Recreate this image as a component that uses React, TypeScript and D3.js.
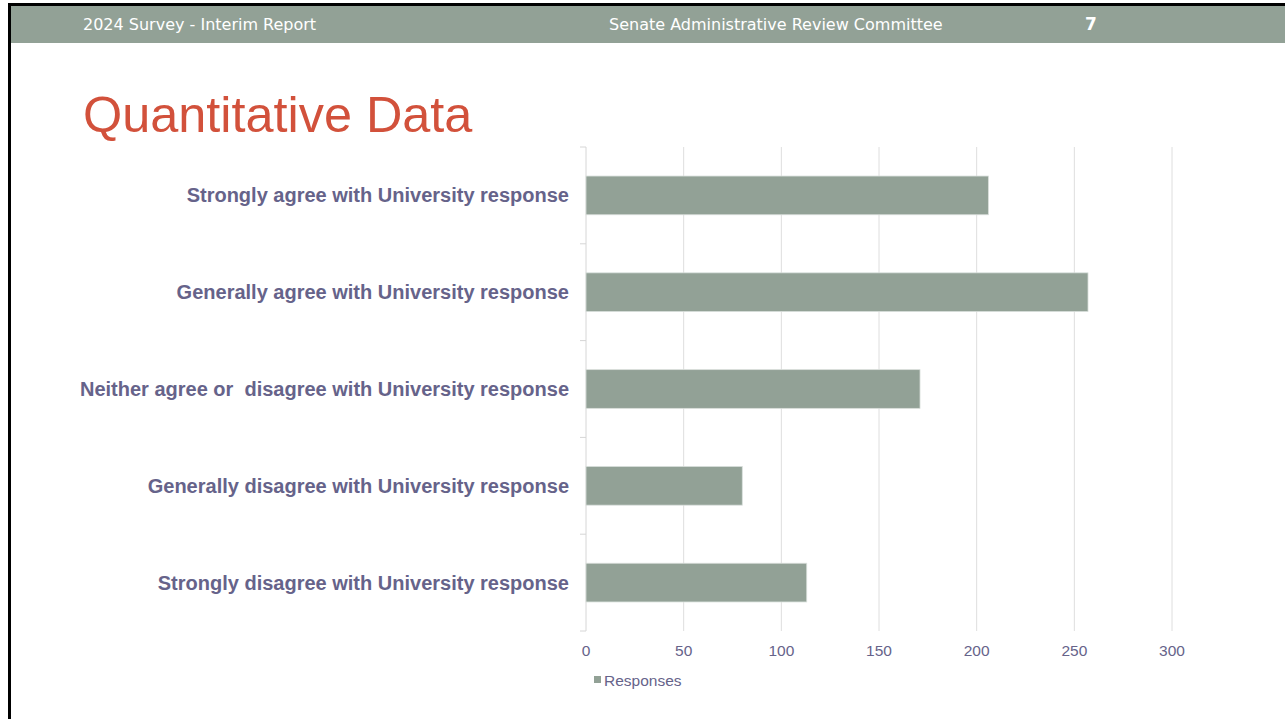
import React, { useEffect, useRef } from 'react';
import * as d3 from 'd3';

const categories = [
  'Strongly agree with University response',
  'Generally agree with University response',
  'Neither agree or  disagree with University response',
  'Generally disagree with University response',
  'Strongly disagree with University response',
];
const responses = [206, 257, 171, 80, 113];
const xTicks = [0, 50, 100, 150, 200, 250, 300];
const seriesName = 'Responses';

const headerLeft = '2024 Survey - Interim Report';
const headerCenter = 'Senate Administrative Review Committee';
const pageNumber = '7';
const title = 'Quantitative Data';

const W = 1285;
const H = 719;
const sage = '#92a196';
const labelColor = '#66638a';
const gridColor = '#dedede';

const App: React.FC = () => {
  const ref = useRef<SVGSVGElement>(null);

  useEffect(() => {
    if (!ref.current) return;
    const svg = d3.select(ref.current);
    svg.selectAll('*').remove();

    // slide frame + header band
    svg.append('rect').attr('x', 8).attr('y', 3).attr('width', W - 8).attr('height', 3).attr('fill', '#000');
    svg.append('rect').attr('x', 8).attr('y', 3).attr('width', 3).attr('height', H - 3).attr('fill', '#000');
    svg.append('rect').attr('x', 11).attr('y', 6).attr('width', W - 11).attr('height', 37).attr('fill', sage);

    const head = svg.append('g')
      .attr('font-family', '"DejaVu Sans", Verdana, sans-serif')
      .attr('font-size', '16px')
      .attr('fill', '#ffffff');
    head.append('text').attr('x', 83).attr('y', 30).text(headerLeft);
    head.append('text').attr('x', 609).attr('y', 30).text(headerCenter);
    head.append('text').attr('x', 1085).attr('y', 30).attr('font-weight', 'bold').attr('font-size', '17px').text(pageNumber);

    svg.append('text')
      .attr('x', 83)
      .attr('y', 132)
      .attr('font-family', '"Liberation Sans", Arial, sans-serif')
      .attr('font-size', '50.4px')
      .attr('fill', '#d2513b')
      .text(title);

    const x = d3.scaleLinear().domain([0, 300]).range([586, 1172]);
    const y = d3.scaleBand<string>()
      .domain(categories)
      .range([147, 631])
      .paddingInner(0.6)
      .paddingOuter(0.3);

    // vertical gridlines
    svg.append('g')
      .selectAll('line')
      .data(xTicks.slice(1))
      .join('line')
      .attr('x1', d => x(d))
      .attr('x2', d => x(d))
      .attr('y1', 147)
      .attr('y2', 631)
      .attr('stroke', gridColor)
      .attr('stroke-width', 1);

    // category axis line and boundary ticks
    svg.append('line')
      .attr('x1', x(0)).attr('x2', x(0))
      .attr('y1', 147).attr('y2', 631)
      .attr('stroke', '#d6d6d6');
    const step = y.step();
    const bounds = d3.range(categories.length + 1).map(i => 147 + i * step);
    svg.append('g')
      .selectAll('line')
      .data(bounds)
      .join('line')
      .attr('x1', x(0) - 6)
      .attr('x2', x(0))
      .attr('y1', d => d)
      .attr('y2', d => d)
      .attr('stroke', '#d6d6d6');

    // bars
    svg.append('g')
      .selectAll('rect')
      .data(categories)
      .join('rect')
      .attr('x', x(0))
      .attr('y', d => y(d) as number)
      .attr('width', (d, i) => x(responses[i]) - x(0))
      .attr('height', y.bandwidth())
      .attr('fill', sage)
      .attr('stroke', '#d9dfdb')
      .attr('stroke-width', 0.8);

    // category labels
    svg.append('g')
      .selectAll('text')
      .data(categories)
      .join('text')
      .attr('x', 569)
      .attr('y', d => (y(d) as number) + y.bandwidth() / 2)
      .attr('dy', '0.35em')
      .attr('text-anchor', 'end')
      .attr('font-family', '"Liberation Sans", Arial, sans-serif')
      .attr('font-weight', 'bold')
      .attr('font-size', '20px')
      .attr('fill', labelColor)
      .style('white-space', 'pre')
      .text(d => d);

    // value axis labels
    svg.append('g')
      .selectAll('text')
      .data(xTicks)
      .join('text')
      .attr('x', d => x(d))
      .attr('y', 655.5)
      .attr('text-anchor', 'middle')
      .attr('font-family', '"Liberation Sans", Arial, sans-serif')
      .attr('font-size', '15.5px')
      .attr('fill', labelColor)
      .text(d => d);

    // legend
    svg.append('rect').attr('x', 594).attr('y', 676).attr('width', 7).attr('height', 7).attr('fill', sage);
    svg.append('text')
      .attr('x', 604)
      .attr('y', 685.5)
      .attr('font-family', '"Liberation Sans", Arial, sans-serif')
      .attr('font-size', '15.5px')
      .attr('fill', labelColor)
      .text(seriesName);
  }, []);

  return (
    <div style={{ position: 'fixed', left: 0, top: 0, width: W, height: H, background: '#fff' }}>
      <svg ref={ref} width={W} height={H} style={{ display: 'block' }} />
    </div>
  );
};

export default App;
